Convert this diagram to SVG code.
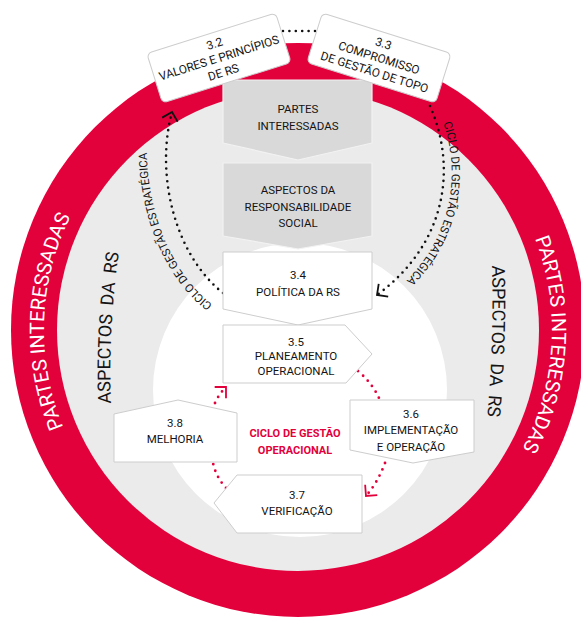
<svg xmlns="http://www.w3.org/2000/svg" width="581" height="618" viewBox="0 0 581 618">
  <defs>
    <style>
      .lbl { font-family: Roboto, "Liberation Sans", Arial, sans-serif; font-size: 11.5px; fill: #141414; text-anchor: middle; }
      .top { font-size: 11.8px; }
      .box { fill: #ffffff; stroke: #cdcdcd; stroke-width: 1; stroke-linejoin: round; }
      .gbox { fill: #d9d9d9; stroke: #f2f2f2; stroke-width: 1.2; stroke-linejoin: round; }
      .ring { font-family: Roboto, "Liberation Sans", Arial, sans-serif; font-size: 20px; fill: #ffffff; }
      .aspect { font-family: Roboto, "Liberation Sans", Arial, sans-serif; font-size: 18px; fill: #141414; word-spacing: 4px; }
      .cycle { font-family: Roboto, "Liberation Sans", Arial, sans-serif; font-size: 11.5px; fill: #141414; }
      .dotsK { fill: none; stroke: #111111; stroke-width: 2.6; stroke-linecap: round; stroke-dasharray: 0 6.4; }
      .dotsR { fill: none; stroke: #e3013c; stroke-width: 2.8; stroke-linecap: round; stroke-dasharray: 0 6.8; }
      .op { font-family: Roboto, "Liberation Sans", Arial, sans-serif; font-size: 11px; font-weight: bold; fill: #e3013c; text-anchor: middle; }
    </style>
    <marker id="headK" viewBox="-10 -10 20 20" markerWidth="20" markerHeight="20" markerUnits="userSpaceOnUse" refX="0" refY="0" orient="auto">
      <path d="M-8,-8 L0,0 L-8,8" fill="none" stroke="#111111" stroke-width="1.8"/>
    </marker>
    <marker id="headR" viewBox="-10 -10 20 20" markerWidth="20" markerHeight="20" markerUnits="userSpaceOnUse" refX="0" refY="0" orient="auto">
      <path d="M-8,-8 L0,0 L-8,8" fill="none" stroke="#e3013c" stroke-width="1.8"/>
    </marker>
    <!-- baselines for the curved labels -->
    <path id="ringL" d="M112.2,503.2 A254,254 0 0 1 124.8,144.2"/>
    <path id="ringR" d="M487.9,161.4 A254,254 0 0 1 466.6,519.9"/>
    <path id="aspL" d="M111,404 Q108,330 119,252"/>
    <path id="aspR" d="M492,262 Q494,340 487,420"/>
    <path id="cycL" d="M214,306 C160,265 138,180 150,110"/>
    <path id="cycR" d="M438,110 C466,172 453,250 382,302"/>
  </defs>

  <!-- background discs -->
  <g id="discs">
    <circle cx="298" cy="330" r="287" fill="#e3013c"/>
    <circle cx="298" cy="330" r="241" fill="#ebebeb"/>
    <circle cx="300" cy="390" r="147" fill="#ffffff"/>
  </g>

  <!-- curved ring labels -->
  <g id="ring-labels">
    <text class="ring"><textPath href="#ringL" startOffset="50%" text-anchor="middle">PARTES INTERESSADAS</textPath></text>
    <text class="ring"><textPath href="#ringR" startOffset="50%" text-anchor="middle">PARTES INTERESSADAS</textPath></text>
    <text class="aspect"><textPath href="#aspL" startOffset="50%" text-anchor="middle">ASPECTOS DA RS</textPath></text>
    <text class="aspect"><textPath href="#aspR" startOffset="50%" text-anchor="middle">ASPECTOS DA RS</textPath></text>
    <text class="cycle"><textPath href="#cycL" startOffset="2">CICLO DE GESTÃO ESTRATÉGICA</textPath></text>
    <text class="cycle"><textPath href="#cycR" startOffset="14">CICLO DE GESTÃO ESTRATÉGICA</textPath></text>
  </g>

  <!-- connectors -->
  <g id="connectors">
    <!-- strategic cycle -->
    <path class="dotsK" d="M223,293 C175,255 155,175 172,112" marker-end="url(#headK)"/>
    <path class="dotsK" d="M283,31 L317,31"/>
    <path class="dotsK" d="M430,106 C458,170 445,245 377,295" marker-end="url(#headK)"/>
    <!-- operational cycle -->
    <path class="dotsR" d="M358,371 Q372,383 379,398"/>
    <path class="dotsR" d="M385,463 Q378,482 366,496" marker-end="url(#headR)"/>
    <path class="dotsR" d="M226,488 Q216,477 213,463"/>
    <path class="dotsR" d="M215,403 Q219,394 226,387" marker-end="url(#headR)"/>
  </g>

  <!-- nodes -->
  <g id="node-partes">
    <polygon class="gbox" points="223,80 372,80 372,143 298,160 223,143"/>
    <text class="lbl" x="298" y="113">PARTES</text>
    <text class="lbl" x="298" y="130">INTERESSADAS</text>
  </g>
  <g id="node-aspectos">
    <polygon class="gbox" points="223,163 372,163 372,236 298,249 223,236"/>
    <text class="lbl" x="298" y="194">ASPECTOS DA</text>
    <text class="lbl" x="298" y="211">RESPONSABILIDADE</text>
    <text class="lbl" x="298" y="227">SOCIAL</text>
  </g>
  <g id="node-3-2" transform="translate(219,58) rotate(-17.5)">
    <rect class="box" x="-67.5" y="-26" width="135" height="52" rx="5"/>
    <text class="lbl top" x="0" y="-11">3.2</text>
    <text class="lbl top" x="0" y="4">VALORES E PRINCÍPIOS</text>
    <text class="lbl top" x="0" y="19">DE RS</text>
  </g>
  <g id="node-3-3" transform="translate(379,58) rotate(17.5)">
    <rect class="box" x="-67.5" y="-26" width="135" height="52" rx="5"/>
    <text class="lbl top" x="0" y="-11">3.3</text>
    <text class="lbl top" x="0" y="4">COMPROMISSO</text>
    <text class="lbl top" x="0" y="19">DE GESTÃO DE TOPO</text>
  </g>
  <g id="node-3-4">
    <polygon class="box" points="223,252 372,252 372,309 298,325 223,309"/>
    <text class="lbl" x="298" y="279">3.4</text>
    <text class="lbl" x="298" y="296">POLÍTICA DA RS</text>
  </g>
  <g id="node-3-5">
    <polygon class="box" points="223,325 345,325 372,354 346,383 223,383"/>
    <text class="lbl" x="296" y="346">3.5</text>
    <text class="lbl" x="296" y="360">PLANEAMENTO</text>
    <text class="lbl" x="296" y="375">OPERACIONAL</text>
  </g>
  <g id="node-3-6">
    <polygon class="box" points="350,400 474,400 474,452 413,463 350,450"/>
    <text class="lbl" x="411" y="418">3.6</text>
    <text class="lbl" x="411" y="434">IMPLEMENTAÇÃO</text>
    <text class="lbl" x="411" y="451">E OPERAÇÃO</text>
  </g>
  <g id="node-3-7">
    <polygon class="box" points="214,503 237,475 362,475 362,533 237,533"/>
    <text class="lbl" x="297" y="499">3.7</text>
    <text class="lbl" x="297" y="515">VERIFICAÇÃO</text>
  </g>
  <g id="node-3-8">
    <polygon class="box" points="114,414 178,400 237,413 237,462 114,462"/>
    <text class="lbl" x="175" y="427">3.8</text>
    <text class="lbl" x="175" y="443">MELHORIA</text>
  </g>

  <g id="operational-label">
    <text class="op" x="295" y="437">CICLO DE GESTÃO</text>
    <text class="op" x="295" y="454">OPERACIONAL</text>
  </g>
</svg>
